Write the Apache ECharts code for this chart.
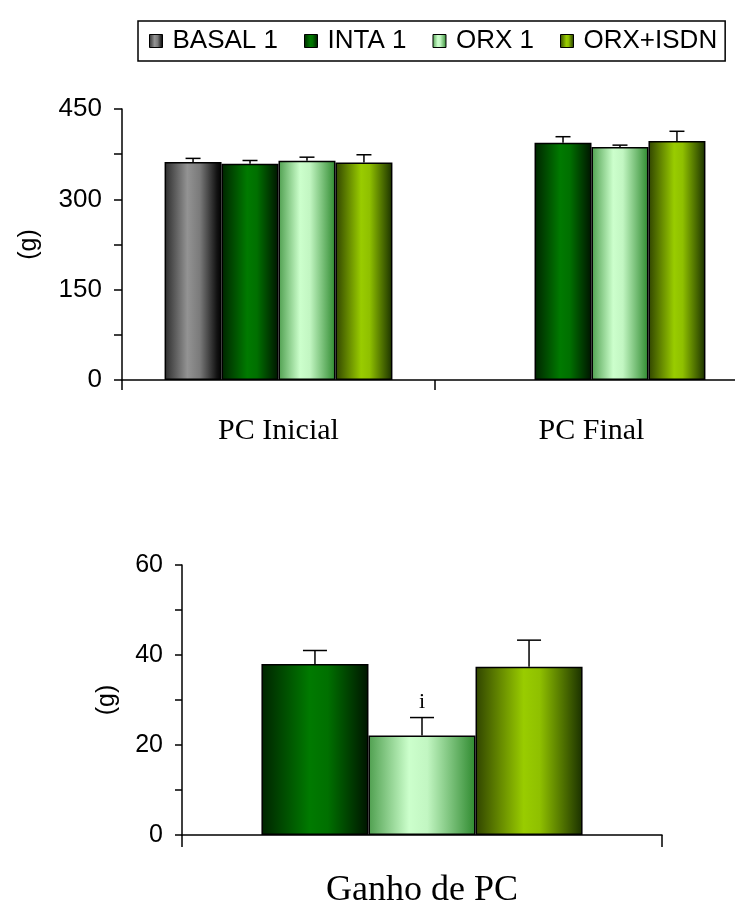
<!DOCTYPE html>
<html>
<head>
<meta charset="utf-8">
<script src="https://cdn.jsdelivr.net/npm/echarts@6/dist/echarts.min.js"></script>
<style>html,body{margin:0;padding:0;background:#fff;overflow:hidden;width:735px;height:909px;}#chart{width:760px;height:909px;}</style>
</head>
<body>
<div id="chart"></div>
<script>
// ---- data ----
const seriesNames = ['BASAL 1', 'INTA 1', 'ORX 1', 'ORX+ISDN'];
const topCategories = ['PC Inicial', 'PC Final'];
const basal = [362, null];
const basalErr = [6, null];
const inta = [359, 394];
const intaErr = [5.5, 10];
const orx = [364, 387];
const orxErr = [6, 3];
const isdn = [361, 397];
const isdnErr = [13, 16];

const bottomCategories = ['Ganho de PC'];
const gainInta = [38];
const gainIntaErr = [3];
const gainOrx = [22.1];
const gainOrxErr = [4];
const gainIsdn = [37.4];
const gainIsdnErr = [5.9];
const gainOrxMark = ['i'];

const topTicks = [0, 150, 300, 450];
const bottomTicks = [0, 20, 40, 60];

// ---- styles ----
function grad(stops) {
  return new echarts.graphic.LinearGradient(0, 0, 1, 0,
    stops.map(s => ({ offset: s[0], color: s[1] })));
}
const fills = [
  grad([[0, '#2c2c2c'], [0.4, '#939393'], [0.62, '#7a7a7a'], [0.92, '#121212'], [1, '#000']]),
  grad([[0, '#002400'], [0.45, '#007a00'], [0.62, '#007000'], [1, '#001400']]),
  grad([[0, '#4f9f4f'], [0.38, '#ccffcc'], [0.55, '#c2f6c2'], [1, '#2f8a2f']]),
  grad([[0, '#304400'], [0.45, '#99cc00'], [0.6, '#8fc000'], [1, '#1a3000']])
];
const SANS = 'Liberation Sans';
const SERIF = 'Liberation Serif';

function zipErr(vals, errs, marks) {
  return vals.map((v, i) => [i, v == null ? '-' : v, errs[i] == null ? 0 : errs[i], marks ? marks[i] : '']);
}

function errRender(nSeries, idx, barFrac, capW) {
  return function (params, api) {
    const v = api.value(1);
    if (v == null || isNaN(v)) return null;
    const c = api.value(0), e = api.value(2);
    const band = api.size([1, 0])[0];
    const bw = band * barFrac;
    const p0 = api.coord([c, v]);
    const p1 = api.coord([c, v + e]);
    const x = p0[0] + (idx - (nSeries - 1) / 2) * bw;
    const lineStyle = { stroke: '#000', lineWidth: 1.5 };
    const children = [
      { type: 'line', shape: { x1: x, y1: p0[1], x2: x, y2: p1[1] }, style: lineStyle },
      { type: 'line', shape: { x1: x - capW / 2, y1: p1[1], x2: x + capW / 2, y2: p1[1] }, style: lineStyle }
    ];
    const mark = api.value(3);
    if (mark && typeof mark === 'string' && mark !== '-') {
      children.push({ type: 'text', x: x, y: p1[1] - 4,
        style: { text: mark, fill: '#000', font: '22px ' + SERIF, textAlign: 'center', textVerticalAlign: 'bottom' } });
    }
    return { type: 'group', children: children };
  };
}

const topBarFrac = 0.182;
const botBarFrac = 0.223;

const topVals = [basal, inta, orx, isdn];
const topErrs = [basalErr, intaErr, orxErr, isdnErr];
const botVals = [gainInta, gainOrx, gainIsdn];
const botErrs = [gainIntaErr, gainOrxErr, gainIsdnErr];
const botMarks = [null, gainOrxMark, null];

const series = [];
topVals.forEach((vals, i) => {
  series.push({
    name: seriesNames[i], type: 'bar', xAxisIndex: 0, yAxisIndex: 0,
    data: vals.map(v => v == null ? '-' : v),
    barWidth: (topBarFrac * 100) + '%', barGap: '0%',
    itemStyle: { color: fills[i], borderColor: '#000', borderWidth: 1.5 },
    emphasis: { disabled: true }, animation: false
  });
});
topVals.forEach((vals, i) => {
  series.push({
    type: 'custom', xAxisIndex: 0, yAxisIndex: 0, z: 5,
    data: zipErr(vals, topErrs[i]),
    encode: { x: 0, y: 1 },
    renderItem: errRender(4, i, topBarFrac, 15), silent: true, animation: false
  });
});
botVals.forEach((vals, i) => {
  series.push({
    name: seriesNames[i + 1], type: 'bar', xAxisIndex: 1, yAxisIndex: 1,
    data: vals,
    barWidth: (botBarFrac * 100) + '%', barGap: '0%',
    itemStyle: { color: fills[i + 1], borderColor: '#000', borderWidth: 1.5 },
    emphasis: { disabled: true }, animation: false
  });
});
botVals.forEach((vals, i) => {
  series.push({
    type: 'custom', xAxisIndex: 1, yAxisIndex: 1, z: 5,
    data: zipErr(vals, botErrs[i], botMarks[i]),
    encode: { x: 0, y: 1 },
    renderItem: errRender(3, i, botBarFrac, 24), silent: true, animation: false
  });
});

const axisLine = { show: true, lineStyle: { color: '#000', width: 1.5 } };
const tickStyle = { color: '#000', width: 1.5 };

const option = {
  backgroundColor: '#fff',
  animation: false,
  legend: {
    data: seriesNames,
    left: 138, top: 21,
    padding: [7, 8, 7, 11],
    itemGap: 26,
    itemWidth: 13, itemHeight: 13,
    icon: 'rect',
    borderColor: '#000', borderWidth: 1.5,
    itemStyle: { borderColor: '#000', borderWidth: 1 },
    textStyle: { fontFamily: SANS, fontSize: 26, color: '#000', padding: [0, 0, 0, 5] },
    selectedMode: false
  },
  grid: [
    { left: 122, width: 626, top: 109, height: 271 },
    { left: 182, width: 480, top: 565, height: 273 }
  ],
  xAxis: [
    { type: 'category', gridIndex: 0, data: topCategories,
      axisLine: axisLine,
      axisTick: { show: true, length: 10, alignWithLabel: false, lineStyle: tickStyle },
      axisLabel: { fontFamily: SERIF, fontSize: 30, color: '#000', margin: 36 },
      splitLine: { show: false } },
    { type: 'category', gridIndex: 1, data: bottomCategories,
      axisLine: axisLine,
      axisTick: { show: true, length: 12, alignWithLabel: false, lineStyle: tickStyle },
      axisLabel: { fontFamily: SERIF, fontSize: 36, color: '#000', margin: 38 },
      splitLine: { show: false } }
  ],
  yAxis: [
    { type: 'value', gridIndex: 0, min: 0, max: 450, interval: 75,
      name: '(g)', nameLocation: 'middle', nameRotate: 90, nameGap: 80,
      nameTextStyle: { fontFamily: SANS, fontSize: 25, color: '#000' },
      axisLine: axisLine,
      axisTick: { show: true, length: 8, lineStyle: tickStyle },
      axisLabel: { fontFamily: SANS, fontSize: 26, color: '#000', margin: 20,
        formatter: v => topTicks.indexOf(v) >= 0 ? String(v) : '' },
      splitLine: { show: false } },
    { type: 'value', gridIndex: 1, min: 0, max: 60, interval: 10,
      name: '(g)', nameLocation: 'middle', nameRotate: 90, nameGap: 62,
      nameTextStyle: { fontFamily: SANS, fontSize: 25, color: '#000' },
      axisLine: axisLine,
      axisTick: { show: true, length: 7, lineStyle: tickStyle },
      axisLabel: { fontFamily: SANS, fontSize: 25, color: '#000', margin: 19,
        formatter: v => bottomTicks.indexOf(v) >= 0 ? String(v) : '' },
      splitLine: { show: false } }
  ],
  series: series
};

const chart = echarts.init(document.getElementById('chart'), null, { renderer: 'canvas' });
chart.setOption(option);
</script>
</body>
</html>
